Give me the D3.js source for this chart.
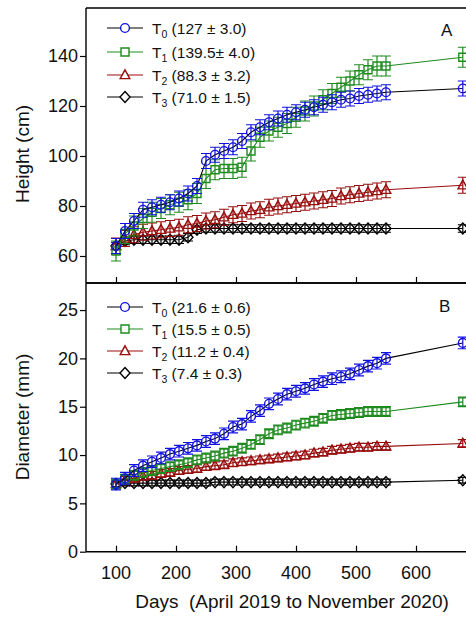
<!DOCTYPE html>
<html><head><meta charset="utf-8">
<script src="https://cdn.jsdelivr.net/npm/d3@7"></script>
<style>body{margin:0;background:#fff;} svg{display:block;font-family:"Liberation Sans",Arial,sans-serif;}</style>
</head><body><svg id="c" width="466" height="617"></svg>
<script>
// ---------- data ----------
const days = [100,115,130,145,160,175,190,205,220,235,250,265,280,295,310,325,340,355,370,385,400,415,430,445,460,475,490,505,520,535,550,678];
const treatments = ["T0","T1","T2","T3"];

const heightT0 = [64,70,74,78.5,79.5,80.5,81.5,83,85,88,98,100.5,102,103.5,106,109.5,111.5,113.5,115,116.5,117.5,118.5,119.5,120.5,121.5,122.5,123,124,124.5,125,125.5,127];
const heightT1 = [62,69,72,75,77.5,79,80.5,81.5,82.5,85,91,94.5,95,95,95.5,102,107.5,110,111.5,113,115.5,118,120,122.5,125,127.5,130,132.5,134.5,136,136,139.5];
const heightT2 = [64,67,68.5,69.5,70,70.5,71,71.5,72.5,73,74,74.5,75.5,76.5,77,78,78.5,79.5,80,80.5,81,81.5,82,82.5,83,84,84.5,85,85.5,86,86.5,88.3];
const heightT3 = [64,66,66.5,66.5,66.5,66.5,66.5,66.5,67.5,70.5,71,71,71,71,71,71,71,71,71,71,71,71,71,71,71,71,71,71,71,71,71,71];
const heightErr = [3.0,4.0,3.2,1.5];

const diamT0 = [7,7.6,8.4,8.9,9.3,9.7,10.1,10.4,10.7,11,11.4,11.7,12.2,12.9,13.2,14,14.6,15.3,15.8,16.3,16.6,16.9,17.3,17.6,17.9,18.1,18.4,18.8,19.2,19.5,20,21.6];
const diamT1 = [7,7.5,7.9,8.2,8.4,8.6,8.8,9,9.2,9.5,9.7,9.9,10.2,10.4,10.7,11.1,11.6,12.2,12.6,12.8,13.1,13.3,13.5,13.8,14.1,14.2,14.3,14.4,14.5,14.5,14.5,15.5];
const diamT2 = [7,7.4,7.6,7.8,7.9,8.1,8.2,8.4,8.5,8.6,8.8,8.9,9,9.2,9.3,9.4,9.5,9.6,9.7,9.8,9.9,10,10.2,10.3,10.5,10.6,10.7,10.8,10.8,10.9,10.9,11.2];
const diamT3 = [7,7.1,7.1,7.1,7.1,7.1,7.1,7.1,7.1,7.1,7.1,7.2,7.2,7.2,7.2,7.2,7.2,7.2,7.2,7.2,7.2,7.2,7.2,7.2,7.2,7.2,7.2,7.2,7.2,7.2,7.2,7.4];
const diamErr = [0.6,0.5,0.4,0.3];

const legendHeight = ["(127 ± 3.0)","(139.5± 4.0)","(88.3 ± 3.2)","(71.0 ± 1.5)"];
const legendDiam = ["(21.6 ± 0.6)","(15.5 ± 0.5)","(11.2 ± 0.4)","(7.4 ± 0.3)"];

const dayTicks = [100,200,300,400,500,600];
const heightTicks = [60,80,100,120,140];
const diamTicks = [0,5,10,15,20,25];

// ---------- styles ----------
const markerColor = ["#1010e0","#1f8a1f","#980c0c","#000000"];
const lineColor   = ["#000000","#1f8a1f","#980c0c","#000000"];
const shapes = ["circle","square","triangle","diamond"];

const svg = d3.select("#c");
const L = 86, R = 476;
const x = d3.scaleLinear().domain([50,700]).range([L,R]);
const yA = d3.scaleLinear().domain([49.2,159.2]).range([283,8]);
const yB = d3.scaleLinear().domain([0,27.8]).range([551.7,283]);

function markerPath(shape){
  if(shape==="circle") return d3.symbol().type(d3.symbolCircle).size(Math.PI*4.4*4.4)();
  if(shape==="square") return "M-4,-4H4V4H-4Z";
  if(shape==="triangle") return "M0,-5.2L4.8,3.6H-4.8Z";
  return "M0,-5.5L5,0L0,5.5L-5,0Z";
}

function panel(y, series, errs, ticks, legendTexts, legY, letter, letterPos){
  const g = svg.append("g");
  const clip = "clipAll";
  // draw series back to front
  [3,2,1,0].forEach(i=>{
    const vals = series[i];
    const pts = days.map((d,k)=>[x(d), y(vals[k])]);
    g.append("path").attr("d", d3.line()(pts)).attr("fill","none")
      .attr("stroke", lineColor[i]).attr("stroke-width",1.1);
    const e = errs[i];
    days.forEach((d,k)=>{
      const cx = x(d), y1 = y(vals[k]-e), y2 = y(vals[k]+e);
      g.append("path").attr("d",`M${cx},${y1}V${y2}M${cx-5},${y1}H${cx+5}M${cx-5},${y2}H${cx+5}`)
        .attr("stroke", markerColor[i]).attr("stroke-width",1.2).attr("fill","none");
    });
    g.selectAll(null).data(days).enter().append("path")
      .attr("d", markerPath(shapes[i]))
      .attr("transform",(d,k)=>`translate(${x(d)},${y(vals[k])})`)
      .attr("fill","none").attr("stroke",markerColor[i]).attr("stroke-width",1.4);
  });
  // axes
  const yr = y.range();
  const ax = d3.axisLeft(y).tickValues(ticks).tickSize(6).tickPadding(2).tickFormat(d3.format("d"));
  const ga = svg.append("g").attr("transform",`translate(${L},0)`).call(ax);
  ga.select(".domain").remove();
  ga.selectAll("line").attr("stroke","#000").attr("stroke-width",1.2);
  ga.selectAll("text").attr("font-size",18).attr("fill","#111").attr("font-family","Liberation Sans, Arial, sans-serif");
  const xb = d3.axisBottom(x).tickValues(dayTicks).tickSize(-6).tickFormat("");
  const gx = svg.append("g").attr("transform",`translate(0,${yr[0]})`).call(xb);
  gx.select(".domain").remove();
  gx.selectAll("line").attr("stroke","#000").attr("stroke-width",1.2);
  // frame
  svg.append("path").attr("d",`M${L},${yr[1]}V${yr[0]}M${L},${yr[0]}H${R}M${L},${yr[1]}H${R}`)
    .attr("stroke","#000").attr("stroke-width",1.4).attr("fill","none");
  // legend
  treatments.forEach((t,i)=>{
    const ly = legY[i];
    const lg = svg.append("g");
    lg.append("line").attr("x1",107).attr("x2",143).attr("y1",ly).attr("y2",ly)
      .attr("stroke",lineColor[i]).attr("stroke-width",1.2);
    lg.append("path").attr("d",markerPath(shapes[i])).attr("transform",`translate(125,${ly})`)
      .attr("fill","#fff").attr("stroke",markerColor[i]).attr("stroke-width",1.4);
    const tx = lg.append("text").attr("x",152).attr("y",ly+5.5).attr("font-size",15.5).attr("fill","#111");
    tx.append("tspan").text("T");
    tx.append("tspan").attr("font-size",10.5).attr("dy",4).text(t.slice(1));
    tx.append("tspan").attr("dy",-4).text(" " + legendTexts[i]);
  });
  svg.append("text").attr("x",letterPos[0]).attr("y",letterPos[1]).attr("font-size",17).attr("fill","#111").text(letter);
}

panel(yA,[heightT0,heightT1,heightT2,heightT3],heightErr,heightTicks,legendHeight,[28,52,75,97],"A",[441,36]);
panel(yB,[diamT0,diamT1,diamT2,diamT3],diamErr,diamTicks,legendDiam,[307,329,351,373],"B",[439,312]);

// x tick labels
svg.append("g").selectAll("text").data(dayTicks).enter().append("text")
  .attr("x",d=>x(d)).attr("y",579).attr("text-anchor","middle").attr("font-size",18).attr("fill","#111").text(d=>d);

// axis titles
svg.append("text").attr("x",292).attr("y",608).attr("text-anchor","middle").attr("font-size",19).attr("fill","#111")
  .attr("xml:space","preserve").text("Days  (April 2019 to November 2020)");
svg.append("text").attr("transform","translate(29,154) rotate(-90)").attr("text-anchor","middle").attr("font-size",19).attr("fill","#111").text("Height (cm)");
svg.append("text").attr("transform","translate(29,417) rotate(-90)").attr("text-anchor","middle").attr("font-size",19).attr("fill","#111").text("Diameter (mm)");
</script></body></html>
